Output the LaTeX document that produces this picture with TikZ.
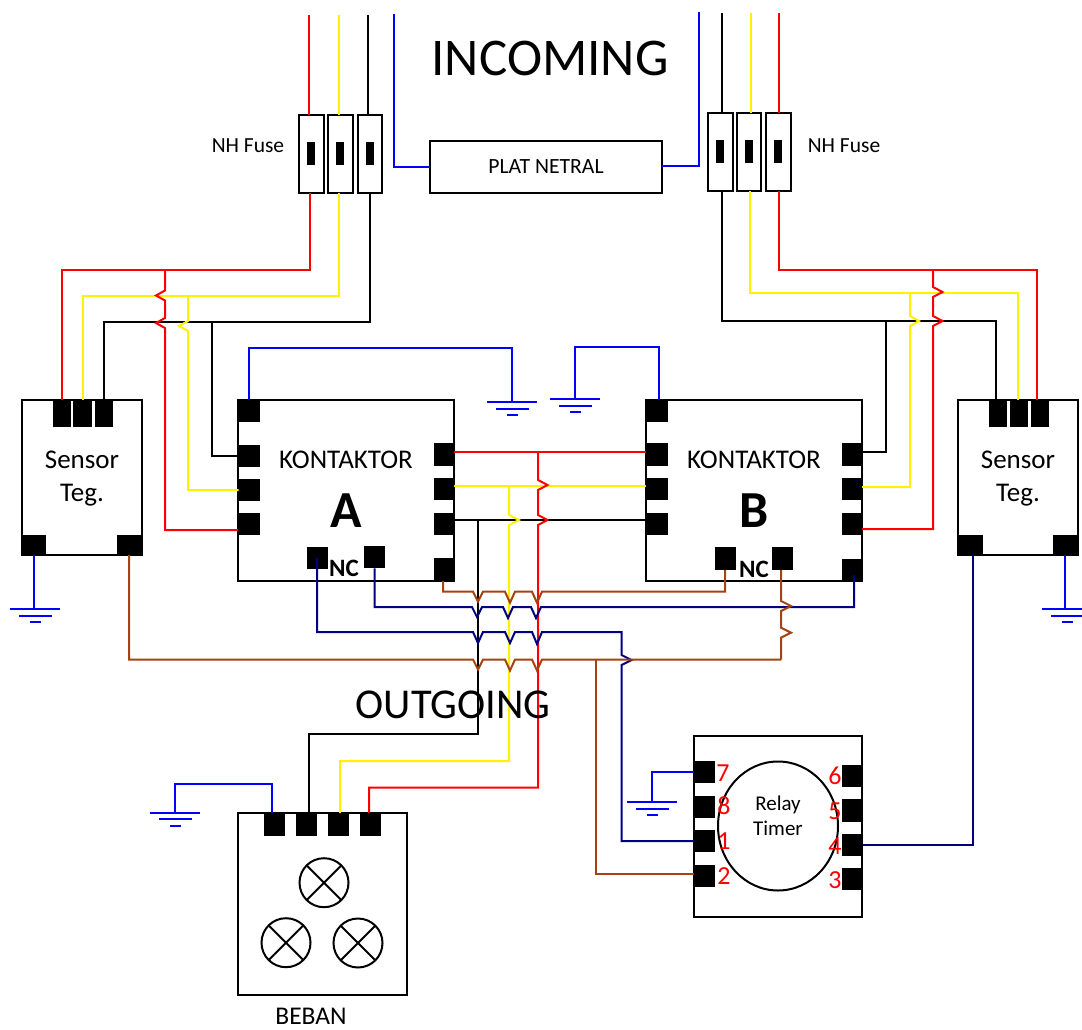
\documentclass[tikz,border=0pt]{standalone}
\usepackage{fontspec}
\setmainfont{Carlito}
\usepackage{amsmath}
\usetikzlibrary{shapes.geometric}

\definecolor{kabelbrown}{HTML}{A5420F}
\definecolor{kabelnavy}{HTML}{000080}

\tikzset{
	kotak/.style={draw,line width=2pt,fill=white,inner sep=0pt,outer sep=0pt},
	term/.style={fill=black,inner sep=0pt,outer sep=0pt,minimum width=21pt,minimum height=22.5pt},
	termtop/.style={fill=black,inner sep=0pt,outer sep=0pt,minimum width=18.5pt,minimum height=27pt},
	termsens/.style={fill=black,inner sep=0pt,outer sep=0pt,minimum width=25pt,minimum height=20pt},
	fuse/.style={kotak,minimum width=24.5pt,minimum height=78pt},
	fusebar/.style={fill=black,inner sep=0pt,outer sep=0pt,minimum width=8pt,minimum height=23pt},
	lamp/.style={kotak,circle,minimum size=49pt},
	teks/.style={inner sep=0pt,outer sep=0pt,align=center,font=\fontsize{#1}{#1}\selectfont},
	nomor/.style={inner sep=0pt,outer sep=0pt,text=red,font=\fontsize{26}{26}\selectfont},
	wire/.style={line width=2pt,line join=miter},
	wirer/.style={wire,red},
	wirey/.style={wire,yellow},
	wirek/.style={wire,black},
	wireb/.style={wire,blue},
	wiren/.style={wire,kabelnavy},
	wirec/.style={wire,kabelbrown},
	vhop/.style={insert path={-- ++(#1,5) -- ++(-#1,5)}},
	hhop/.style={insert path={-- ++(5,#1) -- ++(5,-#1)}},
	earth/.pic={
		\coordinate (-top) at (0,0);
		\draw[wireb] (-25,0) -- (25,0);
		\draw[wireb] (-16,6.5) -- (17,6.5);
		\draw[wireb] (-5,13) -- (6,13);
	}
}

\begin{document}
\begin{tikzpicture}[x=1pt,y=-1pt]

	\useasboundingbox (0,0) rectangle (1082,1030);

	% fuse kiri dan kanan
	\node[fuse] (fl1) at (311.3,154) {};
	\node[fuse] (fl2) at (340.3,154) {};
	\node[fuse] (fl3) at (370,154) {};
	\node[fuse] (fr1) at (720.3,152) {};
	\node[fuse] (fr2) at (749,152) {};
	\node[fuse] (fr3) at (778.3,152) {};
	\foreach \n in {fl1,fl2,fl3,fr1,fr2,fr3}
		\node[fusebar] at (\n) {};
	\node[kotak,minimum width=232pt,minimum height=52pt] (plat) at (546,167) {};

	% kotak utama
	\node[kotak,minimum width=120pt,minimum height=155pt] (sensL) at (82,477.5) {};
	\node[kotak,minimum width=120pt,minimum height=155pt] (sensR) at (1018,477.5) {};
	\node[kotak,minimum width=216pt,minimum height=181pt] (ka) at (346,490.5) {};
	\node[kotak,minimum width=216pt,minimum height=181pt] (kb) at (754,490.5) {};
	\node[kotak,minimum width=169pt,minimum height=182pt] (beban) at (322,904) {};
	\node[kotak,minimum width=168pt,minimum height=181pt] (relay) at (778,826.5) {};
	\node[kotak,ellipse,minimum width=120pt,minimum height=129pt] (timer) at (778,826) {};

	% terminal
	\foreach \n/\x in {1/62,2/82.5,3/104}
		\node[termtop] (stl\n) at (\x,413.5) {};
	\foreach \n/\x in {1/998,2/1019,3/1040}
		\node[termtop] (str\n) at (\x,413.5) {};
	\node[termsens] (sbl1) at (33.5,545) {};
	\node[termsens] (sbl2) at (129,545) {};
	\node[termsens] (sbr1) at (970,545) {};
	\node[termsens] (sbr2) at (1065,545) {};
	\foreach \n/\y in {1/411,2/456,3/490,4/524}
		\node[term] (ka\n) at (249,\y) {};
	\foreach \n/\y in {5/454.5,6/489,7/524,8/569.5}
		\node[term] (ka\n) at (444,\y) {};
	\node[term] (kan1) at (317,558) {};
	\node[term] (kan2) at (374.5,557) {};
	\foreach \n/\y in {1/411,2/454.5,3/489,4/524}
		\node[term] (kb\n) at (657,\y) {};
	\foreach \n/\y in {5/454.5,6/489,7/524,8/570}
		\node[term] (kb\n) at (852,\y) {};
	\node[term] (kbn1) at (725,558.5) {};
	\node[term] (kbn2) at (782,558.5) {};
	\foreach \n/\y in {1/772,2/807,3/841,4/876}
		\node[term] (rl\n) at (704.5,\y) {};
	\foreach \n/\y in {5/776,6/810.5,7/845,8/879}
		\node[term] (rl\n) at (852,\y) {};
	\foreach \n/\x in {1/274.5,2/306.5,3/338.5,4/370.5}
		\node[term] (bb\n) at (\x,824.5) {};

	% lampu
	\foreach \n/\x/\y in {1/324/882.7,2/286/942.7,3/358/943}{
		\node[lamp] (lamp\n) at (\x,\y) {};
		\draw[line width=2pt] (lamp\n.45) -- (lamp\n.225);
		\draw[line width=2pt] (lamp\n.135) -- (lamp\n.315);
	}

	% ground
	\pic (gndSL) at (35,609) {earth};
	\pic (gndSR) at (1067,609) {earth};
	\pic (gndA) at (512,402) {earth};
	\pic (gndB) at (575,399) {earth};
	\pic (gndBb) at (175,812.7) {earth};
	\pic (gndRl) at (652,802) {earth};

	% titik bantu
	\coordinate (inLr) at (309,15);
	\coordinate (inLy) at (339,15);
	\coordinate (inLk) at (368,15);
	\coordinate (inLb) at (394,14);
	\coordinate (inRb) at (698.5,12);
	\coordinate (inRk) at (722,13);
	\coordinate (inRy) at (751,13);
	\coordinate (inRr) at (779,13);
	\coordinate (jLr) at (310,270);
	\coordinate (jLy) at (339,296);
	\coordinate (jLk) at (370,322);
	\coordinate (jRk) at (722,320.5);
	\coordinate (jRy) at (750,292.5);
	\coordinate (jRr) at (779,270);
	\coordinate (tapLr) at (165,270);
	\coordinate (tapLy) at (188,296);
	\coordinate (tapLk) at (212,322);
	\coordinate (tapRr) at (933,270);
	\coordinate (tapRy) at (910,292.5);
	\coordinate (tapRk) at (886,320.5);
	\coordinate (midr) at (538,452);
	\coordinate (midy) at (509,486);
	\coordinate (midk) at (478,520);

	% masuk dan fuse
	\draw[wirer] (inLr) -- (inLr |- fl1.north);
	\draw[wirey] (inLy) -- (inLy |- fl2.north);
	\draw[wirek] (inLk) -- (inLk |- fl3.north);
	\draw[wirek] (inRk) -- (inRk |- fr1.north);
	\draw[wirey] (inRy) -- (inRy |- fr2.north);
	\draw[wirer] (inRr) -- (inRr |- fr3.north);
	\draw[wireb] (inLb) |- (plat.west);
	\draw[wireb] (inRb) |- (plat.east |- 0,166);

	% dari fuse kiri ke sensor dan kontaktor A
	\draw[wirek] (jLk |- fl3.south) -- (jLk) -| (stl3.north);
	\draw[wirek] (tapLk) |- (ka2.west);
	\draw[wirey] (jLy |- fl2.south) -- (jLy) -| (stl2.north);
	\draw[wirey] (tapLy) -- (188,321) [vhop=-9] |- (ka3.west);
	\draw[wirer] (jLr |- fl1.south) -- (jLr) -| (stl1.north);
	\draw[wirer] (tapLr) -- (165,290.5) [vhop=-9] -- (165,318) [vhop=-9] -- (165,530) -- (ka.west |- 0,530);

	% dari fuse kanan ke sensor dan kontaktor B
	\draw[wirek] (jRk |- fr1.south) -- (jRk) -| ([xshift=-2pt]str1.north);
	\draw[wirek] (tapRk) |- (kb.east |- 0,452);
	\draw[wirey] (jRy |- fr2.south) -- (jRy) -| ([xshift=-1pt]str2.north);
	\draw[wirey] (tapRy) -- (910,316) [vhop=9] -- (910,487) -- (kb.east |- 0,487);
	\draw[wirer] (jRr |- fr3.south) -- (jRr) -| ([xshift=-3pt]str3.north);
	\draw[wirer] (tapRr) -- (933,287) [vhop=9.5] -- (933,316) [vhop=9.5] -- (933,529) -- (kb.east |- 0,529);

	% antar kontaktor
	\draw[wirek] (ka.east |- midk) -- (kb.west |- midk);
	\draw[wirey] (ka.east |- midy) -- (kb.west |- midy);
	\draw[wirer] (ka.east |- midr) -- (kb.west |- midr);

	% ke beban
	\draw[wirek] (midk) -- (478,734) -- (309,734) -- (309,813);
	\draw[wirey] (midy) -- (509,515) [vhop=10] -- (509,761) -- (340,761) -- (340,813);
	\draw[wirer] (midr) -- (538,480) [vhop=9.5] -- (538,515) [vhop=9.5] -- (538,787.5) -- (369,787.5) -- (369,813);
	\draw[wireb] (gndBb-top) |- (272,784) -- (272,813);

	% kabel kontrol
	\draw[wirec] (443,581) |- (473,591.7) [hhop=10] -- (505,591.7) [hhop=11] -- (532,591.7) [hhop=11] -| (kbn1.south);
	\draw[wiren] (kan2.south) |- (472,607) [hhop=10] -- (503,607) [hhop=11] -- (531,607) [hhop=11] -- (854,607) -- (854,575);
	\draw[wiren] (kan1.center) |- (473,632) [hhop=11] -- (505,632) [hhop=11] -- (532,632) [hhop=12] -- (621.5,632) -- (621.5,655) [vhop=10] |- (rl3.west);
	\coordinate (brC) at (781,659.5);
	\draw[wirec] (sbl2.south) |- (473,659.5) [hhop=10] -- (505,659.5) [hhop=11] -- (532,659.5) [hhop=11] -- (brC);
	\draw[wirec] (781,570) -- (781,601) [vhop=10] -- (781,627.7) [vhop=10] -- (brC);
	\draw[wirec] (596,659.5) |- (rl4.west |- 0,874);
	\draw[wiren] (973,555) |- (rl7.east);

	% kabel ground
	\draw[wireb] (ka1.north) |- (512,348) -- (gndA-top);
	\draw[wireb] (659,400) |- (575,347) -- (gndB-top);
	\draw[wireb] (sbl1.south) -- (gndSL-top -| sbl1.south);
	\draw[wireb] (sbr2.south) -- (gndSR-top -| sbr2.south);
	\draw[wireb] (rl1.west) -| (gndRl-top);

	% teks
	\node[teks=53] (incoming) at (550,58) {INCOMING};
	\node[teks=42.5] (outgoing) at (453,705) {OUTGOING};
	\node[teks=21.5] (nhL) at (248,146) {NH Fuse};
	\node[teks=21.5] (nhR) at (844,146) {NH Fuse};
	\node[teks=21.7] (platT) at (plat) {PLAT NETRAL};
	\node[teks=27] (sensLt) at (82,478.5) {Sensor\\[6pt]Teg.};
	\node[teks=27] (sensRt) at (1018,478.5) {Sensor\\[6pt]Teg.};
	\node[teks=27] (kaT) at (346,460) {KONTAKTOR};
	\node[teks=27] (kbT) at (754,460) {KONTAKTOR};
	\node[teks=52] (kaL) at (346,511) {\bfseries A};
	\node[teks=52] (kbL) at (754,511) {\bfseries B};
	\node[teks=25] (kaN) at (344,568) {\bfseries NC};
	\node[teks=25] (kbN) at (754,569) {\bfseries NC};
	\node[teks=21] (relayT) at (778,815.5) {Relay\\[4pt]Timer};
	\node[teks=25.5] (bebanT) at (311,1016.5) {BEBAN};
	\foreach \t/\x/\y in {7/723/773,8/724/806,1/724/841,2/724/876,6/835/776,5/835/811,4/835/846,3/835/880}
		\node[nomor] (no\t) at (\x,\y) {\t};

\end{tikzpicture}
\end{document}
